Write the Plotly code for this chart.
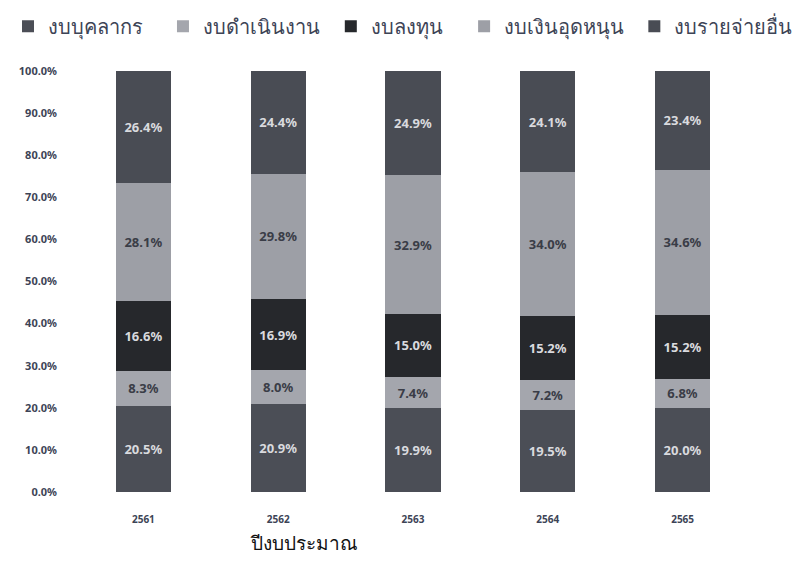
import plotly.graph_objects as go

YEARS = ["2561", "2562", "2563", "2564", "2565"]

SERIES = [
    "งบบุคลากร",
    "งบดำเนินงาน",
    "งบลงทุน",
    "งบเงินอุดหนุน",
    "งบรายจ่ายอื่น",
]

PERSONNEL = [20.5, 20.9, 19.9, 19.5, 20.0]
OPERATING = [8.3, 8.0, 7.4, 7.2, 6.8]
INVESTMENT = [16.6, 16.9, 15.0, 15.2, 15.2]
SUBSIDY = [28.1, 29.8, 32.9, 34.0, 34.6]
OTHER = [26.4, 24.4, 24.9, 24.1, 23.4]

VALUES = [PERSONNEL, OPERATING, INVESTMENT, SUBSIDY, OTHER]

COLORS = ["#4b4e56", "#a4a6ad", "#26282c", "#9d9fa6", "#494c54"]
TEXT_COLORS = ["#d9dade", "#3a3d47", "#d9dade", "#3a3d47", "#d9dade"]

TICKS = [0, 10, 20, 30, 40, 50, 60, 70, 80, 90, 100]

# one legend per series so each entry can sit where the original puts it
LEGEND_IDS = ["legend", "legend2", "legend3", "legend4", "legend5"]
LEGEND_X = [0.0, 0.193, 0.402, 0.568, 0.780]

fig = go.Figure()

for name, vals, color, tcolor, lid in zip(SERIES, VALUES, COLORS, TEXT_COLORS, LEGEND_IDS):
    fig.add_trace(
        go.Bar(
            x=YEARS,
            y=vals,
            name=name,
            legend=lid,
            showlegend=True,
            marker_color=color,
            marker_line_width=0,
            text=[f"{v:.1f}%" for v in vals],
            textposition="inside",
            insidetextanchor="middle",
            textangle=0,
            textfont=dict(color=tcolor, size=13, family="Noto Sans", weight="bold"),
            hoverinfo="skip",
        )
    )

legends = {}
for lid, lx in zip(LEGEND_IDS, LEGEND_X):
    legends[lid] = dict(
        orientation="h",
        xref="container",
        yref="container",
        x=lx,
        y=0.968,
        xanchor="left",
        yanchor="middle",
        font=dict(size=20, color="#3d4456"),
        bgcolor="rgba(0,0,0,0)",
    )

# the page body adds an 8px offset, so margins are shifted to compensate
fig.update_layout(
    barmode="stack",
    bargap=0.59,
    width=803,
    height=568,
    showlegend=True,
    plot_bgcolor="white",
    paper_bgcolor="white",
    margin=dict(l=68, r=61, t=63, b=84, autoexpand=False),
    font=dict(family="Noto Sans, DejaVu Sans", color="#3d4456"),
    uniformtext=dict(mode="show", minsize=8),
    annotations=[
        dict(
            text="ปีงบประมาณ",
            xref="paper",
            yref="paper",
            x=0.338,
            y=-0.085,
            xanchor="center",
            yanchor="top",
            showarrow=False,
            font=dict(size=19, color="#111111"),
        )
    ],
    **legends,
)

fig.update_yaxes(
    range=[0, 100],
    tickvals=TICKS,
    ticktext=[f"{t:.1f}%" for t in TICKS],
    showgrid=False,
    zeroline=False,
    automargin=False,
    tickfont=dict(size=11, color="#3d4456", weight="bold"),
    ticklabelstandoff=18,
)

fig.update_xaxes(
    type="category",
    showgrid=False,
    automargin=False,
    tickfont=dict(size=10, color="#3d4456", weight="bold"),
    ticklabelstandoff=20,
)

fig.write_html("out.html")
